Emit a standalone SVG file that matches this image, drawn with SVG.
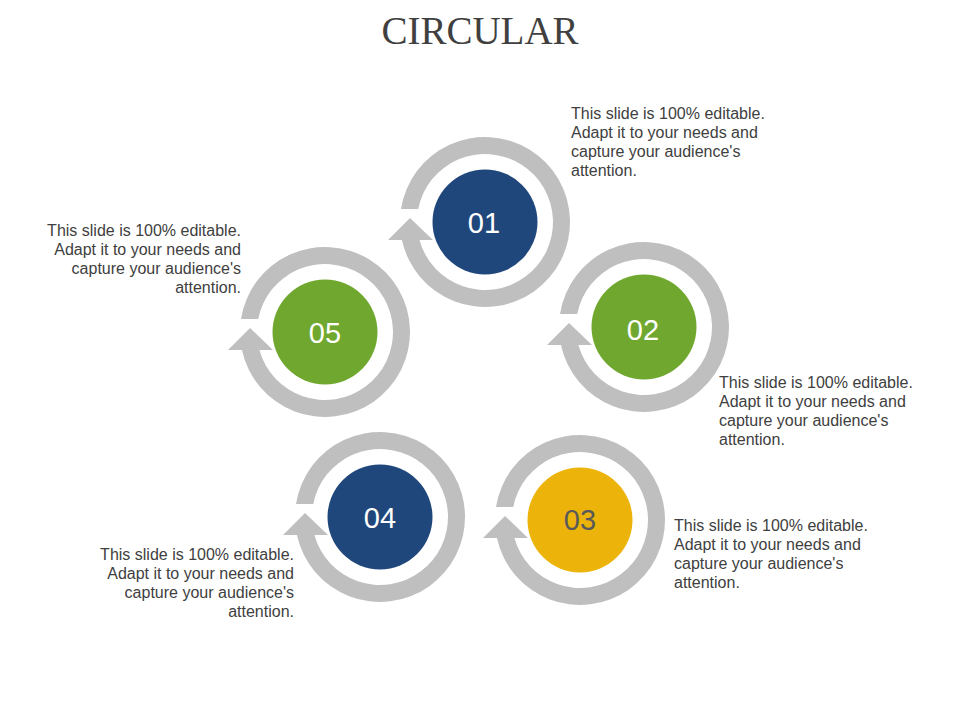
<svg xmlns="http://www.w3.org/2000/svg" xmlns:xlink="http://www.w3.org/1999/xlink" width="960" height="720" viewBox="0 0 960 720">
  <style>
    .ring { fill: #BFBFBF; }
    .title { font-family: "Liberation Serif", "Times New Roman", serif; font-size: 39px; fill: #404040; text-anchor: middle; }
    .num { font-family: "Liberation Sans", Arial, sans-serif; font-size: 29px; text-anchor: middle; fill: #FFFFFF; }
    .num.dark { fill: #595959; }
    .desc { font-family: "Liberation Sans", Arial, sans-serif; font-size: 16px; fill: #404040; }
    .desc.r { text-anchor: end; }
    .blue { fill: #1F477B; }
    .green { fill: #70A82F; }
    .yellow { fill: #ECB40A; }
  </style>
  <defs>
    <g id="ringArrow" class="ring">
      <path d="M -83.07,18 A 85 85 0 1 0 -84,-13 L -66.75,-13 A 68 68 0 1 1 -65.57,18 Z"/>
      <polygon points="-97,18 -75,-4 -52,18"/>
    </g>
  </defs>
  <rect width="960" height="720" fill="#FFFFFF"/>
  <text class="title" x="480" y="44">CIRCULAR</text>
  <g id="connectors"></g>

  <g id="node-01">
    <use xlink:href="#ringArrow" href="#ringArrow" transform="translate(485,222)"/>
    <circle class="blue" cx="485" cy="222" r="52.5"/>
    <text class="num" x="484" y="233">01</text>
    <text class="desc" x="571" y="119">This slide is 100% editable.</text>
    <text class="desc" x="571" y="138">Adapt it to your needs and</text>
    <text class="desc" x="571" y="157">capture your audience's</text>
    <text class="desc" x="571" y="176">attention.</text>
  </g>

  <g id="node-02">
    <use xlink:href="#ringArrow" href="#ringArrow" transform="translate(644,327)"/>
    <circle class="green" cx="644" cy="327" r="52.5"/>
    <text class="num" x="643" y="340">02</text>
    <text class="desc" x="719" y="388">This slide is 100% editable.</text>
    <text class="desc" x="719" y="407">Adapt it to your needs and</text>
    <text class="desc" x="719" y="426">capture your audience's</text>
    <text class="desc" x="719" y="445">attention.</text>
  </g>

  <g id="node-03">
    <use xlink:href="#ringArrow" href="#ringArrow" transform="translate(580,520)"/>
    <circle class="yellow" cx="580" cy="520" r="52.5"/>
    <text class="num dark" x="580" y="530">03</text>
    <text class="desc" x="674" y="531">This slide is 100% editable.</text>
    <text class="desc" x="674" y="550">Adapt it to your needs and</text>
    <text class="desc" x="674" y="569">capture your audience's</text>
    <text class="desc" x="674" y="588">attention.</text>
  </g>

  <g id="node-04">
    <use xlink:href="#ringArrow" href="#ringArrow" transform="translate(380,517)"/>
    <circle class="blue" cx="380" cy="517" r="52.5"/>
    <text class="num" x="380" y="528">04</text>
    <text class="desc r" x="294" y="560">This slide is 100% editable.</text>
    <text class="desc r" x="294" y="579">Adapt it to your needs and</text>
    <text class="desc r" x="294" y="598">capture your audience's</text>
    <text class="desc r" x="294" y="617">attention.</text>
  </g>

  <g id="node-05">
    <use xlink:href="#ringArrow" href="#ringArrow" transform="translate(325,332)"/>
    <circle class="green" cx="325" cy="332" r="52.5"/>
    <text class="num" x="325" y="343">05</text>
    <text class="desc r" x="241" y="236">This slide is 100% editable.</text>
    <text class="desc r" x="241" y="255">Adapt it to your needs and</text>
    <text class="desc r" x="241" y="274">capture your audience's</text>
    <text class="desc r" x="241" y="293">attention.</text>
  </g>
</svg>
